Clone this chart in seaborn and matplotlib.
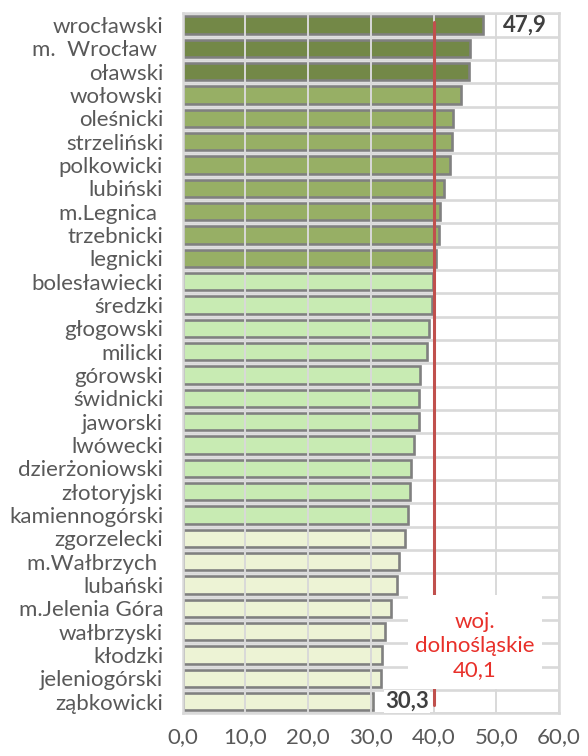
import matplotlib
matplotlib.use("Agg")
import matplotlib.pyplot as plt
import seaborn as sns
import pandas as pd
from matplotlib.patches import Rectangle

categories = ["wrocławski", "m.  Wrocław ", "oławski", "wołowski", "oleśnicki",
              "strzeliński", "polkowicki", "lubiński", "m.Legnica ", "trzebnicki",
              "legnicki", "bolesławiecki", "średzki", "głogowski", "milicki",
              "górowski", "świdnicki", "jaworski", "lwówecki", "dzierżoniowski",
              "złotoryjski", "kamiennogórski", "zgorzelecki", "m.Wałbrzych ",
              "lubański", "m.Jelenia Góra", "wałbrzyski", "kłodzki",
              "jeleniogórski", "ząbkowicki"]
values = [47.9, 45.8, 45.7, 44.3, 43.1, 43.0, 42.6, 41.6, 41.0, 40.9, 40.4,
          39.9, 39.8, 39.3, 38.9, 37.9, 37.7, 37.6, 36.8, 36.4, 36.3, 35.9,
          35.5, 34.5, 34.2, 33.2, 32.3, 31.8, 31.6, 30.3]
groups = ["A"] * 3 + ["B"] * 8 + ["C"] * 11 + ["D"] * 8
group_colors = {"A": "#77933C", "B": "#9BBB59", "C": "#C6F5A9", "D": "#F0F8D0"}
region_avg = 40.1
region_label = "woj.\ndolnośląskie\n40,1"
xticks = [0, 10, 20, 30, 40, 50, 60]
xtick_labels = ["0,0", "10,0", "20,0", "30,0", "40,0", "50,0", "60,0"]

n = len(categories)
df = pd.DataFrame({"cat": categories, "val": values, "grp": groups})

sns.set_style("white")
plt.rcParams["font.family"] = ["Lato", "DejaVu Sans"]
fig = plt.figure(figsize=(5.88, 7.56), dpi=100)
ax = fig.add_axes([0.3107, 0.0566, 0.64, 0.9258])

sns.barplot(data=df, y="cat", x="val", hue="grp", palette=group_colors,
            dodge=False, legend=False, orient="h", width=0.74,
            edgecolor="#808080", linewidth=1.9, ax=ax, zorder=2)

ax.set_xlim(0, 60)
ax.set_ylim(n - 0.5, -0.5)
ax.set_xticks(xticks)
ax.set_xticklabels(xtick_labels, color="#595959", fontsize=16)
ax.set_xlabel("")
ax.set_ylabel("")
ax.set_yticks(range(n))
ax.set_yticklabels(categories, color="#595959", fontsize=16)
ax.set_yticks([i + 0.5 for i in range(-1, n)], minor=True)
ax.tick_params(axis="both", which="both", length=0)
ax.tick_params(axis="x", pad=10)
ax.tick_params(axis="y", pad=14)
ax.set_axisbelow(False)
ax.grid(axis="x", which="major", color="#D9D9D9", linewidth=1.4, zorder=3)
ax.grid(axis="y", which="minor", color="#D9D9D9", linewidth=1.9, zorder=3)
for s in ax.spines.values():
    s.set_color("#D9D9D9")
    s.set_linewidth(1.8)

# regional average line
ax.plot([region_avg, region_avg], [-0.13, n - 0.85], color="#C0504D",
        linewidth=2.2, zorder=4)

# label box
ax.add_patch(Rectangle((35.9, 24.43), 21.4, 4.05, facecolor="white",
                       edgecolor="none", zorder=5))
ax.text(46.6, 26.62, region_label, ha="center", va="center", color="#E8302A",
        fontsize=16, linespacing=1.28, zorder=6)

# data labels for first and last
ax.annotate(f"{values[0]:.1f}".replace(".", ","), (values[0], 0),
            xytext=(14, 0), textcoords="offset points", ha="left", va="center",
            fontsize=16, fontweight="bold", color="#404040", zorder=6)
ax.annotate(f"{values[-1]:.1f}".replace(".", ","), (values[-1], n - 1),
            xytext=(9, 0), textcoords="offset points", ha="left", va="center",
            fontsize=16, fontweight="bold", color="#404040", zorder=6,
            bbox=dict(facecolor="white", edgecolor="none", pad=1))

fig.savefig("out.png", dpi=100)
